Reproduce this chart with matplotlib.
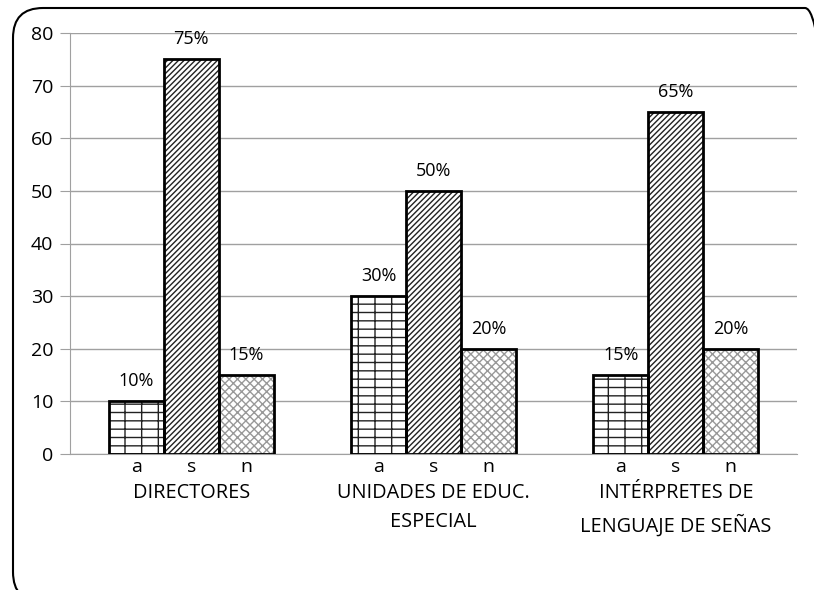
import matplotlib.pyplot as plt
import numpy as np
from matplotlib.patches import FancyBboxPatch
from matplotlib.transforms import IdentityTransform

plt.rcParams['font.family'] = ['Open Sans', 'DejaVu Sans']
plt.rcParams['hatch.linewidth'] = 1.0

groups = ['DIRECTORES', 'UNIDADES DE EDUC.\nESPECIAL', 'INTÉRPRETES DE\nLENGUAJE DE SEÑAS']
series = ['a', 's', 'n']
vals_a = [10, 30, 15]
vals_s = [75, 50, 65]
vals_n = [15, 20, 20]
hatches = ['-+', '//////', 'xxxx']
hatch_colors = ['#222222', '#222222', '#999999']

fig = plt.figure(figsize=(8.14, 5.9), dpi=100)
ax = fig.add_axes([70 / 814, 1 - 454 / 590, 727 / 814, 421 / 590])

x = np.arange(len(groups))
w = 0.227
for i, (vals, h, hc) in enumerate(zip([vals_a, vals_s, vals_n], hatches, hatch_colors)):
    pos = x + (i - 1) * w
    ax.bar(pos, vals, w, color='white', edgecolor=hc, hatch=h, linewidth=0, zorder=2)
    ax.bar(pos, vals, w, fill=False, edgecolor='black', linewidth=2, zorder=3)
    for p, v in zip(pos, vals):
        ax.annotate(f'{v}%', (p, v), xytext=(0, 8), textcoords='offset points',
                    ha='center', va='bottom', fontsize=13)
    for p in pos:
        ax.text(p, -2.5, series[i], ha='center', va='center', fontsize=14)

for i, g in enumerate(groups):
    ax.text(x[i], -5.6, g, ha='center', va='top', fontsize=14.3, linespacing=1.6)

ax.set_xlim(-0.5, 2.5)
ax.set_ylim(0, 80)
ax.set_yticks(range(0, 81, 10))
ax.set_xticks([])
ax.tick_params(axis='y', length=7, color='#a0a0a0', labelsize=14, pad=5)
ax.yaxis.grid(True, color='#a0a0a0', linewidth=1, zorder=0)
ax.set_axisbelow(True)
for s in ['top', 'right']:
    ax.spines[s].set_visible(False)
ax.spines['left'].set_color('#a0a0a0')
ax.spines['bottom'].set_color('#a0a0a0')

# rounded frame, in pixels (origin bottom-left)
border = FancyBboxPatch((13, -12), 822, 594,
                        boxstyle='round,pad=0,rounding_size=30',
                        transform=IdentityTransform(), fill=False,
                        edgecolor='black', linewidth=1.5)
fig.patches.append(border)

fig.savefig('out.png', dpi=100)
